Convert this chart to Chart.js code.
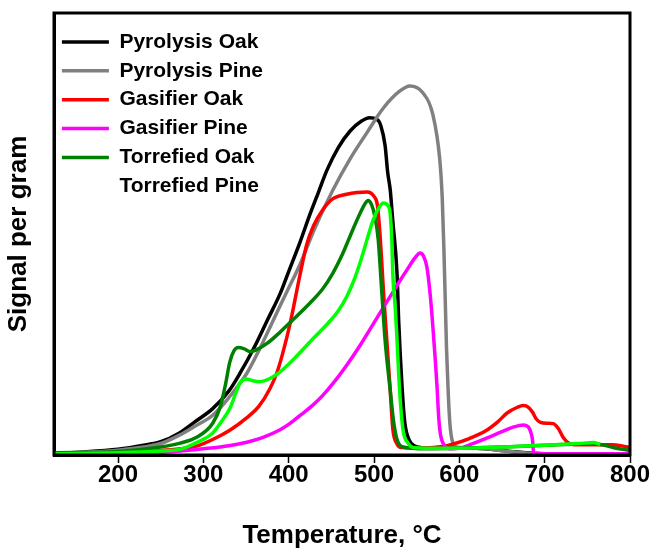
<!DOCTYPE html>
<html>
<head>
<meta charset="utf-8">
<script src="https://cdn.jsdelivr.net/npm/chart.js@4.4.1/dist/chart.umd.min.js"></script>
<style>
  html, body { margin: 0; padding: 0; background: #fff; }
  canvas { display: block; }
</style>
</head>
<body>
<canvas id="tpo" width="655" height="552"></canvas>
<script>
// [temperature (°C), signal per gram]
const pyrolysisOak = [
  [125, 0.4], [160, 0.7], [200, 1.3], [230, 2.2], [250, 3.0], [272, 5], [290, 7.5],
  [311, 10.5], [330, 14.5], [343, 18.5], [360, 24.5], [375, 30.5], [390, 36.5],
  [400, 41.5], [413, 48], [425, 54.5], [435, 59.5], [445, 64.5], [458, 69.5], [472, 73.3],
  [485, 75.5], [495, 76.3], [503, 76], [508, 74.5], [513, 70], [516, 64], [519, 60],
  [522, 53], [527, 41], [529, 30], [533, 15], [536, 7.5], [541, 3.5], [548, 2],
  [560, 1.6], [620, 1.5], [660, 0.8], [700, 0.3], [800, 0.2]
];
const pyrolysisPine = [
  [125, 0.3], [160, 0.6], [200, 1.1], [230, 1.8], [250, 2.6], [272, 4.5], [290, 6.5],
  [311, 9], [330, 13], [351, 18.5], [366, 24], [382, 30.5], [398, 37], [413, 43],
  [430, 51], [452, 60], [472, 67], [492, 73], [511, 78.5], [530, 82.3], [542, 83.5],
  [557, 82], [569, 77], [577, 67], [580, 58], [582, 46], [583.5, 35], [585, 24],
  [587, 14], [589, 7], [592, 3], [597, 1.8], [620, 1.5], [660, 0.8], [700, 0.2], [800, 0.1]
];
const gasifierOak = [
  [125, 0.3], [200, 0.6], [250, 1.0], [273, 1.4], [292, 2.0], [311, 3.5], [331, 5.6],
  [350, 8.3], [365, 11], [378, 15], [386, 18.5], [393, 23], [402, 30], [413, 40.5],
  [421, 47.5], [429, 51.8], [440, 55.5], [452, 58], [468, 59], [480, 59.4], [492, 59.5],
  [500, 58.5], [504, 56.5], [507, 50], [509, 44], [511, 37.3], [515, 26], [519, 14.7],
  [522, 6], [527, 2.5], [532, 1.7], [560, 1.6], [580, 1.9], [593, 2.5], [610, 3.6],
  [632, 5.6], [645, 7.5], [656, 9.5], [668, 10.8], [675, 11.2], [681, 10.8], [686, 9.6],
  [690, 8.2], [695, 7.4], [703, 7.2], [710, 7.1], [716, 6], [722, 3.9], [728, 2.7],
  [738, 2.3], [780, 2.3], [800, 1.7]
];
const gasifierPine = [
  [125, 0.1], [200, 0.3], [250, 0.6], [273, 0.9], [300, 1.4], [330, 2.1], [351, 2.9],
  [370, 4], [390, 5.7], [402, 7.2], [415, 9.2], [429, 11.4], [440, 13.5], [452, 16.2],
  [468, 20.3], [484, 24.9], [499, 29.6], [511, 33.4], [522, 36.8], [530, 39.3], [539, 42],
  [548, 44.6], [554, 45.7], [558, 45], [562, 42.5], [566, 36], [569, 29], [572, 21],
  [574, 15], [576, 8], [578, 4.5], [582, 2.3], [590, 1.4], [600, 1.5], [615, 2.5],
  [632, 3.8], [650, 5.3], [663, 6.3], [675, 6.8], [681, 6.3], [684, 5], [686, 3],
  [687, 0.4], [700, 0.3], [800, 0.3]
];
const torrefiedOak = [
  [125, 0.5], [200, 0.8], [250, 1.8], [273, 2.7], [292, 4], [311, 7.2], [320, 11],
  [326, 16], [331, 21], [336, 23.6], [341, 24.3], [348, 24], [355, 23.4], [365, 24.1],
  [375, 25.3], [390, 27.8], [405, 30.6], [425, 34.4], [440, 37.6], [452, 41.2],
  [462, 45], [470, 48.6], [477, 51.8], [484, 54.8], [490, 57], [493, 57.6], [497, 56.7],
  [501, 54], [505, 48.6], [509, 37.3], [513, 26], [519, 14.7], [523, 7.5], [527, 3.5],
  [534, 1.8], [560, 1.4], [600, 1.5], [650, 1.8], [700, 2.2], [750, 2.5], [765, 2.4],
  [780, 1.7], [800, 1.0]
];
const torrefiedPine = [
  [125, 0.3], [200, 0.5], [250, 0.9], [273, 1.3], [292, 2.8], [311, 5], [321, 7.5],
  [331, 10.5], [338, 14], [343, 16.3], [350, 17.2], [358, 16.8], [366, 16.6],
  [378, 17.3], [390, 18.8], [410, 22.5], [429, 26.4], [445, 29.6], [458, 32.6],
  [468, 35.8], [477, 39.8], [485, 44.3], [493, 49.5], [499, 53.2], [506, 56], [511, 57],
  [516, 56.5], [519, 54.5], [521, 48], [522, 41], [525, 33], [527, 26], [530, 14.7],
  [534, 5.7], [540, 2.7], [546, 1.7], [580, 1.5], [650, 1.8], [700, 2.2], [740, 2.6],
  [757, 2.8], [765, 2.4]
];

const seriesNames = ['Pyrolysis Oak', 'Pyrolysis Pine', 'Gasifier Oak', 'Gasifier Pine', 'Torrefied Oak', 'Torrefied Pine'];
const seriesColors = ['#000000', '#808080', '#ff0000', '#ff00ff', '#008000', '#00ff00'];
const seriesData = [pyrolysisOak, pyrolysisPine, gasifierOak, gasifierPine, torrefiedOak, torrefiedPine];
const tempTicks = [200, 300, 400, 500, 600, 700, 800];
// no sample line next to this legend entry
const noLegendLine = ['Torrefied Pine'];

const FONT = '"Liberation Sans", Arial, sans-serif';

// closed box around the plot area (the axes only give left/bottom)
const frame = {
  id: 'frame',
  afterDatasetsDraw(chart) {
    const {ctx, chartArea: a} = chart;
    ctx.save();
    ctx.strokeStyle = '#000';
    ctx.lineWidth = 3;
    ctx.strokeRect(a.left, a.top, a.right - a.left, a.bottom - a.top);
    ctx.restore();
  }
};

const datasets = seriesData.map((pts, i) => ({
  label: seriesNames[i],
  data: pts.map(p => ({x: p[0], y: p[1]})),
  borderColor: seriesColors[i],
  backgroundColor: seriesColors[i],
  borderWidth: 3.5,
  pointRadius: 0,
  fill: false,
  cubicInterpolationMode: 'monotone',
  order: seriesData.length - i // later series drawn on top
}));

new Chart(document.getElementById('tpo').getContext('2d'), {
  type: 'line',
  data: {datasets},
  plugins: [frame],
  options: {
    responsive: false,
    animation: false,
    layout: {padding: {top: 13, right: 25, bottom: 0, left: 0}},
    plugins: {
      tooltip: {enabled: false},
      legend: {
        position: 'chartArea',
        align: 'start',
        // empty title used as a top spacer
        title: {display: true, text: ' ', padding: 0, font: {size: 23.5, lineHeight: 1}},
        labels: {
          color: '#000',
          font: {family: FONT, size: 21, weight: 'bold'},
          usePointStyle: true,
          pointStyle: 'line',
          pointStyleWidth: 47,
          padding: 7.9,
          sort: (a, b) => a.datasetIndex - b.datasetIndex,
          generateLabels(chart) {
            const items = Chart.defaults.plugins.legend.labels.generateLabels(chart);
            items.forEach(it => {
              if (noLegendLine.includes(it.text)) it.strokeStyle = 'rgba(0,0,0,0)';
            });
            return items;
          }
        }
      }
    },
    scales: {
      x: {
        type: 'linear',
        min: 125,
        max: 800,
        afterBuildTicks: scale => { scale.ticks = tempTicks.map(v => ({value: v})); },
        afterFit: scale => { scale.height = 97; },
        grid: {display: true, drawOnChartArea: false, drawTicks: true, tickLength: 8, tickColor: '#000', tickWidth: 1.5},
        border: {display: true, color: '#000', width: 3},
        ticks: {color: '#000', padding: 0, maxRotation: 0, font: {family: FONT, size: 24, weight: 'bold', lineHeight: 1}},
        title: {
          display: true,
          text: 'Temperature, °C',
          color: '#000',
          padding: {top: 0, bottom: 3},
          font: {family: FONT, size: 26, weight: 'bold', lineHeight: 1}
        }
      },
      y: {
        min: 0,
        max: 100,
        afterFit: scale => { scale.width = 54; },
        grid: {display: false},
        border: {display: true, color: '#000', width: 3},
        ticks: {display: false},
        title: {
          display: true,
          text: 'Signal per gram',
          color: '#000',
          padding: {top: 6, bottom: 0},
          font: {family: FONT, size: 26, weight: 'bold', lineHeight: 1}
        }
      }
    }
  }
});
</script>
</body>
</html>
